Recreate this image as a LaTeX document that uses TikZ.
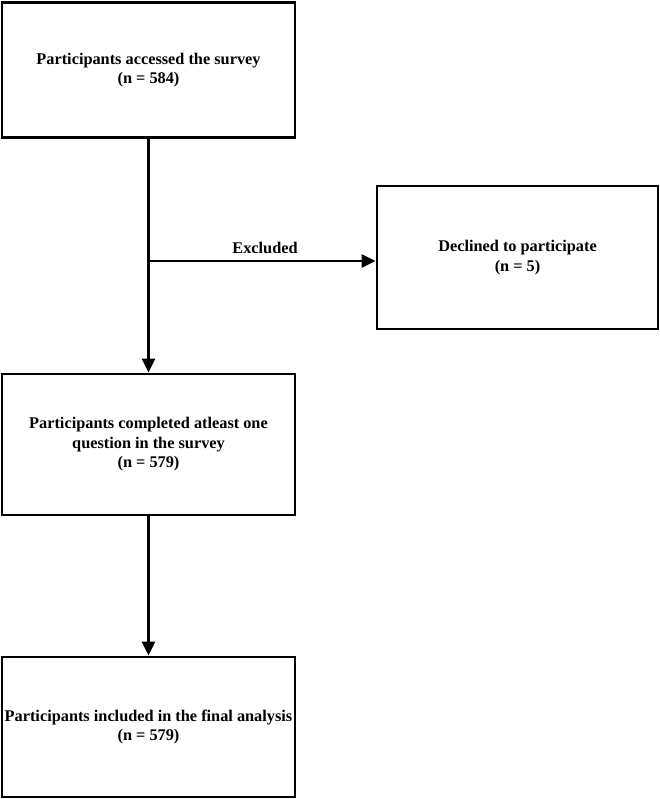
\documentclass[tikz,border=0pt]{standalone}
\usepackage{fontspec}
\setmainfont{Liberation Serif}
\usetikzlibrary{arrows.meta}
\begin{document}
\begin{tikzpicture}[x=1pt,y=-1pt,
  box/.style={draw,line width=2.8pt,inner sep=0pt,align=center,
    font=\fontsize{16.3}{19.5}\selectfont\bfseries},
  conn/.style={line width=2.5pt,-{Triangle[length=14pt,width=13pt]}}]
\useasboundingbox (0,0) rectangle (660,799);
\node[box,minimum width=293pt,minimum height=135pt] (a) at (148.5,70) {Participants accessed the survey\\(n = 584)};
\node[box,minimum width=281pt,minimum height=143pt] (d) at (517.5,257.5) {Declined to participate\\(n = 5)};
\node[box,minimum width=293pt,minimum height=141pt] (b) at (148.5,444.5) {Participants completed atleast one\\question in the survey\\(n = 579)};
\node[box,minimum width=293pt,minimum height=140pt] (c) at (148.5,727) {Participants included in the final analysis\\(n = 579)};
\coordinate (j) at (148.5,261);
\draw[conn] (a.south) -- (b.north);
\draw[conn] (j) -- (d.west |- j) node[midway,above=3pt,xshift=3pt,font=\fontsize{16.3}{19}\selectfont\bfseries] (ex) {Excluded};
\draw[conn] (b.south) -- (c.north);
\end{tikzpicture}
\end{document}
